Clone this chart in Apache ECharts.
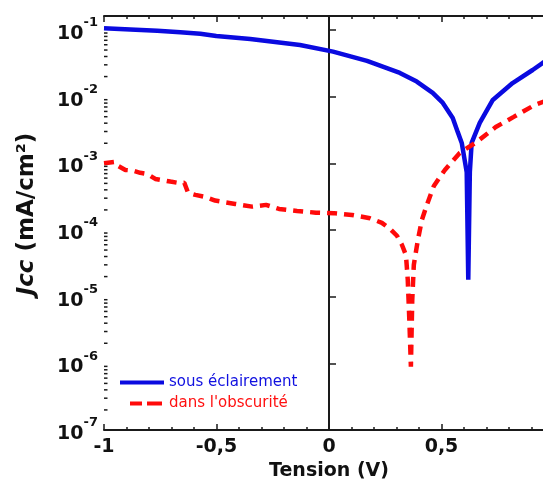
<!DOCTYPE html>
<html><head><meta charset="utf-8">
<script src="https://cdn.jsdelivr.net/npm/echarts@6/dist/echarts.min.js"></script>
<style>html,body{margin:0;padding:0;background:#fff}#c{width:543px;height:480px}</style>
</head><body><div id="c"></div>
<script>
// Tension (V) values and current densities (mA/cm2)
const blueName = 'sous éclairement';
const redName = "dans l'obscurité";
const blueX = [-1.0, -0.883, -0.763, -0.661, -0.572, -0.501, -0.35, -0.129, 0.018, 0.169, 0.315, 0.39, 0.461, 0.506, 0.55, 0.572, 0.59, 0.603, 0.612, 0.619, 0.626, 0.634, 0.67, 0.728, 0.816, 0.905, 0.949, 1.0];
const blueY = [0.106, 0.102, 0.0977, 0.0924, 0.088, 0.0813, 0.0733, 0.0596, 0.0473, 0.0343, 0.0227, 0.0168, 0.0114, 0.00805, 0.0048, 0.00296, 0.00202, 0.00112, 0.00074, 0.000018, 0.00074, 0.00202, 0.00404, 0.00893, 0.016, 0.0251, 0.032, 0.040];
const redX = [-1.0, -0.949, -0.936, -0.905, -0.874, -0.839, -0.807, -0.772, -0.741, -0.705, -0.670, -0.643, -0.626, -0.594, -0.550, -0.506, -0.461, -0.417, -0.342, -0.280, -0.222, -0.142, -0.058, 0.022, 0.102, 0.182, 0.235, 0.271, 0.302, 0.324, 0.342, 0.350, 0.357, 0.364, 0.370, 0.377, 0.395, 0.413, 0.435, 0.466, 0.515, 0.581, 0.657, 0.741, 0.821, 0.914, 0.949, 1.0];
const redY = [1.0e-3, 1.05e-3, 9.1e-4, 7.96e-4, 7.8e-4, 7.2e-4, 6.9e-4, 5.83e-4, 5.6e-4, 5.32e-4, 5.08e-4, 5.1e-4, 3.6e-4, 3.36e-4, 3.13e-4, 2.76e-4, 2.6e-4, 2.46e-4, 2.24e-4, 2.38e-4, 2.07e-4, 1.93e-4, 1.82e-4, 1.79e-4, 1.68e-4, 1.50e-4, 1.28e-4, 1.04e-4, 8.2e-5, 6.0e-5, 4.2e-5, 1.8e-5, 4.5e-6, 8.9e-7, 8.9e-6, 3.0e-5, 7.1e-5, 1.42e-4, 2.38e-4, 4.58e-4, 7.96e-4, 1.43e-3, 2.1e-3, 3.5e-3, 4.97e-3, 7.5e-3, 8.3e-3, 9.5e-3];
const xMin = -1, xMax = 1, xStep = 0.5;
const yMin = 1e-7, yMax = 0.162;
const decades = [-7, -6, -5, -4, -3, -2, -1];
const xTitle = 'Tension (V)';
const yTitleItalic = 'Jcc';
const yTitleRest = ' (mA/cm²)';

const zip = (a, b) => a.map((v, i) => [v, b[i]]);
const minorVals = [];
decades.forEach(e => { for (let m = 2; m <= 9; m++) { const v = m * Math.pow(10, e); if (v < yMax) minorVals.push([xMin, v]); } });

const axisCol = '#1a1a1a';
const FONT = 'DejaVu Sans';
const chart = echarts.init(document.getElementById('c'));
chart.setOption({
  animation: false,
  backgroundColor: '#fff',
  grid: { left: 104, right: -11, top: 16, bottom: 50, outerBoundsMode: 'none', containLabel: false },
  legend: {
    left: 118, top: 375, orient: 'vertical', padding: 0,
    itemWidth: 44, itemHeight: 14, itemGap: 6,
    itemStyle: { color: 'rgba(0,0,0,0)', borderWidth: 0, opacity: 0 },
    textStyle: { fontFamily: FONT, fontSize: 15, padding: [0, 0, 0, 0] },
    data: [
      { name: blueName, textStyle: { color: '#1010e0' }, lineStyle: { width: 4 } },
      { name: redName, textStyle: { color: '#ff1010' }, lineStyle: { width: 4, type: [12, 5, 15, 10], dashOffset: 32 } }
    ]
  },
  xAxis: [{
    type: 'value', min: xMin, max: xMax, interval: xStep, position: 'bottom',
    name: xTitle, nameLocation: 'middle', nameGap: 29,
    nameTextStyle: { fontFamily: FONT, fontWeight: 'bold', fontSize: 19, color: '#111' },
    axisLine: { lineStyle: { color: axisCol, width: 2 } },
    axisTick: { inside: true, length: 6, lineStyle: { color: axisCol, width: 1.5 } },
    minorTick: { show: true, splitNumber: 5, length: 3, lineStyle: { color: axisCol, width: 1.5 } },
    splitLine: { show: false },
    axisLabel: { margin: 8, fontFamily: FONT, fontWeight: 'bold', fontSize: 19, color: '#111',
      formatter: v => String(Math.round(v * 10) / 10).replace('.', ',') }
  }, {
    type: 'value', min: xMin, max: xMax, interval: xStep, position: 'top',
    axisLine: { lineStyle: { color: axisCol, width: 2 } },
    axisTick: { inside: true, length: 6, lineStyle: { color: axisCol, width: 1.5 } },
    minorTick: { show: true, splitNumber: 5, length: 3, lineStyle: { color: axisCol, width: 1.5 } },
    splitLine: { show: false }, axisLabel: { show: false }
  }],
  yAxis: {
    type: 'log', logBase: 10, min: yMin, max: yMax,
    name: '{i|' + yTitleItalic + '}' + yTitleRest, nameLocation: 'middle', nameGap: 65, nameRotate: 90,
    nameTextStyle: { fontFamily: FONT, fontWeight: 'bold', fontSize: 23, color: '#111', padding: [0, 0, 0, 18],
      rich: { i: { fontFamily: FONT, fontWeight: 'bold', fontStyle: 'italic', fontSize: 23, color: '#111' } } },
    axisLine: { show: true, lineStyle: { color: axisCol, width: 2 } },
    axisTick: { inside: true, length: 7, lineStyle: { color: axisCol, width: 1.5 } },
    splitLine: { show: false },
    axisLabel: {
      margin: 6, showMaxLabel: false,
      formatter: v => '{b|10}{s|' + Math.round(Math.log10(v)) + '}',
      rich: {
        b: { fontFamily: FONT, fontWeight: 'bold', fontSize: 19, color: '#111', lineHeight: 27, verticalAlign: 'bottom' },
        s: { fontFamily: FONT, fontWeight: 'bold', fontSize: 13, color: '#111', lineHeight: 12, verticalAlign: 'top' }
      }
    }
  },
  series: [
    {
      type: 'custom', name: 'minor', silent: true, data: minorVals, z: 5,
      renderItem: (params, api) => {
        const p = api.coord([api.value(0), api.value(1)]);
        return { type: 'line', shape: { x1: p[0], y1: p[1], x2: p[0] + 3.5, y2: p[1] }, style: { stroke: axisCol, lineWidth: 1.5 } };
      }
    },
    {
      type: 'line', name: blueName, data: zip(blueX, blueY), showSymbol: false, symbol: 'none',
      lineStyle: { color: '#0a0ae0', width: 4.5 }, itemStyle: { color: '#0a0ae0' }, z: 2
    },
    {
      type: 'line', name: redName, data: zip(redX, redY), showSymbol: false, symbol: 'none',
      lineStyle: { color: '#ff0a0a', width: 4.5, type: [10, 7] }, itemStyle: { color: '#ff0a0a' }, z: 3
    }
  ]
});
</script>
</body></html>
